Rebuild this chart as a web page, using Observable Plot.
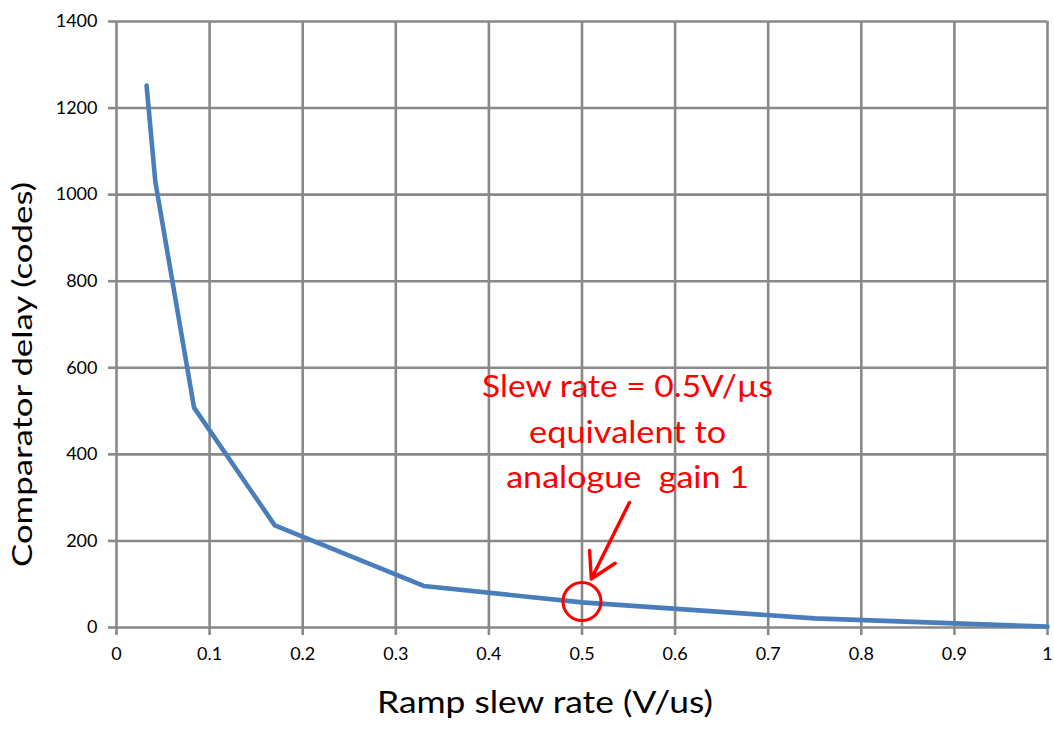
<!DOCTYPE html>
<html>
<head>
<meta charset="utf-8">
<script src="https://cdn.jsdelivr.net/npm/d3@7"></script>
<script src="https://cdn.jsdelivr.net/npm/@observablehq/plot@0.6"></script>
<style>
  html, body { margin: 0; padding: 0; background: #fff; }
  #chart svg { display: block; }
</style>
</head>
<body>
<div id="chart"></div>
<script>
// Data
const slewRate = [0.0323, 0.0417, 0.0833, 0.1700, 0.3300, 0.5, 0.75, 1.0];
const delayCodes = [1252, 1030, 508, 236, 96, 58, 21, 2];

const xTicks = [0, 0.1, 0.2, 0.3, 0.4, 0.5, 0.6, 0.7, 0.8, 0.9, 1];
const yTicks = [0, 200, 400, 600, 800, 1000, 1200, 1400];

const xTitle = "Ramp slew rate (V/us)";
const yTitle = "Comparator delay (codes)";

const noteLines = ["Slew rate = 0.5V/µs", "equivalent to", "analogue\u00a0 gain 1"];
const noteLineY = [556, 450, 346];
const noteX = 0.549;
const markerX = [0.5];
const markerY = [60];
const arrowFrom = [0.551, 289];
const arrowTo = [0.510, 112];

const data = slewRate.map((x, i) => ({x, y: delayCodes[i]}));
const notes = noteLines.map((t, i) => ({t, x: noteX, y: noteLineY[i]}));

const font = "Lato, 'Open Sans', sans-serif";
const gridColor = "#898989";

const chart = Plot.plot({
  width: 1054,
  height: 733,
  marginLeft: 116,
  marginRight: 7,
  marginTop: 21,
  marginBottom: 106,
  style: {fontFamily: font, background: "#fff", color: "#000"},
  x: {domain: [0, 1]},
  y: {domain: [0, 1400]},
  marks: [
    Plot.gridX(xTicks, {stroke: gridColor, strokeOpacity: 1, strokeWidth: 2.6}),
    Plot.gridY(yTicks, {stroke: gridColor, strokeOpacity: 1, strokeWidth: 2.6}),
    Plot.axisX(xTicks, {
      tickSize: 8, stroke: gridColor, strokeWidth: 2.6, tickPadding: 12,
      fontSize: 18, label: null, tickFormat: d => String(+d.toFixed(1))
    }),
    Plot.axisY(yTicks, {
      tickSize: 8, stroke: gridColor, strokeWidth: 2.6, tickPadding: 11,
      fontSize: 18, label: null, tickFormat: d => String(d)
    }),
    Plot.line(data, {x: "x", y: "y", stroke: "#4a7ebb", strokeWidth: 4.6, strokeLinejoin: "round", strokeLinecap: "round"}),
    Plot.dot(markerX.map((x, i) => ({x, y: markerY[i]})), {x: "x", y: "y", r: 19, stroke: "#ff0000", strokeWidth: 3, fill: "none"}),
    Plot.arrow([{x1: arrowFrom[0], y1: arrowFrom[1], x2: arrowTo[0], y2: arrowTo[1]}], {
      x1: "x1", y1: "y1", x2: "x2", y2: "y2", stroke: "#ff0000", strokeWidth: 3.4, headLength: 14, bend: false
    }),
    Plot.text(notes, {x: "x", y: "y", text: "t", fill: "#ff0000", fontSize: 31, lineAnchor: "middle", textAnchor: "middle", className: "note"}),
    Plot.text([xTitle], {frameAnchor: "bottom", dx: -37, dy: 76, fontSize: 30, lineAnchor: "middle", textAnchor: "middle", fill: "#000", className: "xtitle"}),
    Plot.text([yTitle], {frameAnchor: "left", dx: -93, dy: 50, rotate: -90, fontSize: 27, lineAnchor: "middle", textAnchor: "middle", fill: "#000", className: "ytitle"})
  ]
});

// Fit text widths to the reference's (stretched) text
const noteWidths = [291, 197, 243];
d3.select(chart).selectAll(".note text").each(function(d, i) {
  d3.select(this).attr("textLength", noteWidths[i]).attr("lengthAdjust", "spacingAndGlyphs");
});
d3.select(chart).selectAll(".xtitle text").attr("textLength", 336).attr("lengthAdjust", "spacingAndGlyphs");
d3.select(chart).selectAll(".ytitle text").attr("textLength", 385).attr("lengthAdjust", "spacingAndGlyphs");

document.getElementById("chart").appendChild(chart);
</script>
</body>
</html>
